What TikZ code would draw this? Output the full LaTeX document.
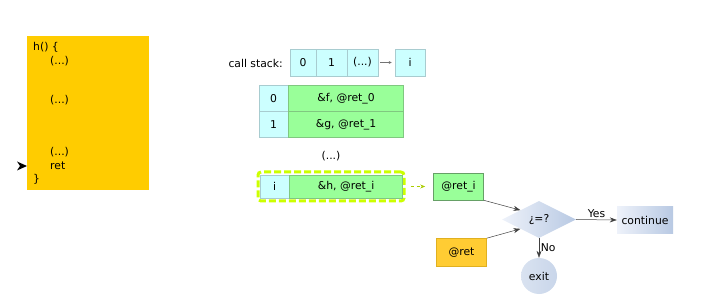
\documentclass[tikz,border=0pt]{standalone}
\usepackage{fontspec}
\setmainfont{DejaVu Sans}
\usetikzlibrary{arrows.meta,shapes.geometric,calc}

\definecolor{codeyellow}{HTML}{FFCC00}
\definecolor{cellcyan}{HTML}{CCFFFF}
\definecolor{cellcyanline}{HTML}{A8CCD0}
\definecolor{cellgreen}{HTML}{99FF99}
\definecolor{cellgreenline}{HTML}{80C880}
\definecolor{limeline}{HTML}{CCFF00}
\definecolor{limearrow}{HTML}{AACC00}
\definecolor{retorange}{HTML}{FFCC33}
\definecolor{retorangeline}{HTML}{E0B020}
\definecolor{steellight}{HTML}{EEF2FA}
\definecolor{steel}{HTML}{B8C9E3}
\definecolor{steelmid}{HTML}{C9D6EA}

\tikzset{
  codeline/.style={anchor=west, inner sep=0pt},
  idxcell/.style={draw=cellcyanline, fill=cellcyan, inner sep=0pt, line width=0.6pt},
  entrycell/.style={draw=cellgreenline, fill=cellgreen, inner sep=0pt, line width=0.6pt},
  flowarrow/.style={draw=black!75, line width=0.5pt, -{Stealth[length=7pt,width=5pt]}},
  stepshade/.style={left color=steellight, right color=steel, draw=none},
}

\begin{document}
\begin{tikzpicture}[x=1pt, y=-1pt, font=\fontsize{10.8}{13}\selectfont]
  \useasboundingbox (0,0) rectangle (711,304);

  % code listing of h()
  \fill[codeyellow] (27,36) rectangle (149,190);
  \node[codeline] (l1) at (33,47.5) {h() \{};
  \node[codeline] (l2) at (50,61) {(...)};
  \node[codeline] (l3) at (50,100) {(...)};
  \node[codeline] (l4) at (50,152.5) {(...)};
  \node[codeline] (l5) at (50,166) {ret};
  \node[codeline] (l6) at (33,179) {\}};
  % current instruction pointer
  \coordinate (pc) at (27,166);
  \fill ($(pc)+(-10,-4.5)$) -- (pc) -- ($(pc)+(-10,4.5)$) -- ($(pc)+(-7,0)$) -- cycle;

  % call stack indices
  \node[anchor=east, inner sep=0pt] (cslabel) at (283,63) {call stack:};
  \node[idxcell, minimum width=26pt, minimum height=27pt] (c0) at (303,62.5) {0};
  \node[idxcell, minimum width=31pt, minimum height=27pt] (c1) at (331.5,62.5) {1};
  \node[idxcell, minimum width=31pt, minimum height=27pt] (cdots) at (362.5,62.5) {(...)};
  \node[idxcell, minimum width=30pt, minimum height=27pt] (ci) at (410,62.5) {i};
  \draw[draw=black!55, line width=0.4pt, -{Stealth[length=3pt,width=3pt]}] (cdots.east) ++(2,0) -- ($(ci.west)+(-3,0)$);

  % stack frames
  \node[idxcell, minimum width=29pt, minimum height=26pt] (f0i) at (273.5,98.5) {0};
  \node[entrycell, minimum width=115pt, minimum height=26pt, anchor=west] (f0e) at (f0i.east) {\&f, @ret\_0};
  \node[idxcell, minimum width=29pt, minimum height=26pt] (f1i) at (273.5,124.5) {1};
  \node[entrycell, minimum width=115pt, minimum height=26pt, anchor=west] (f1e) at (f1i.east) {\&g, @ret\_1};
  \node (fdots) at (331,156) {(...)};

  % current frame
  \node[draw=limeline, line width=3pt, dash pattern=on 7pt off 3pt, rounded corners=3pt,
        minimum width=146pt, minimum height=29pt, inner sep=0pt] (cur) at (331,186.5) {};
  \node[idxcell, minimum width=29pt, minimum height=23pt] (fii) at (274.5,186.5) {i};
  \node[entrycell, minimum width=113pt, minimum height=23pt, anchor=west] (fie) at (fii.east) {\&h, @ret\_i};

  % return check
  \node[entrycell, minimum width=50pt, minimum height=27pt, draw=cellgreenline!80!black] (reti) at (458.5,186.5) {@ret\_i};
  \draw[draw=limearrow, line width=0.6pt, dashed, -{Stealth[length=5pt,width=4pt]}] ($(cur.east)+(5,0)$) -- ($(reti.west)+(-8,0)$);
  \node[fill=retorange, draw=retorangeline, line width=0.6pt, minimum width=50pt, minimum height=28pt, inner sep=0pt] (ret) at (461.5,252.5) {@ret};
  \node[diamond, stepshade, minimum width=74pt, minimum height=37pt, inner sep=0pt, aspect=2] (cmp) at (539,219.5) {¿=?};
  \node[stepshade, minimum width=56pt, minimum height=26pt, inner sep=0pt] (cont) at (645,220) {continue};
  \node[circle, left color=steelmid!70!white, right color=steelmid, draw=none, minimum size=36pt, inner sep=0pt] (exit) at (539,276) {exit};

  \draw[flowarrow] (reti.south east) -- ($(cmp.west)!0.5!(cmp.north)$);
  \draw[flowarrow] (ret.north east) -- ($(cmp.west)!0.5!(cmp.south)$);
  \draw[flowarrow] (cmp.east) -- node[above, inner sep=1.5pt] {Yes} (cont.west);
  \draw[flowarrow] (cmp.south) -- node[right, inner sep=1.5pt] {No} (exit.north);
\end{tikzpicture}
\end{document}
